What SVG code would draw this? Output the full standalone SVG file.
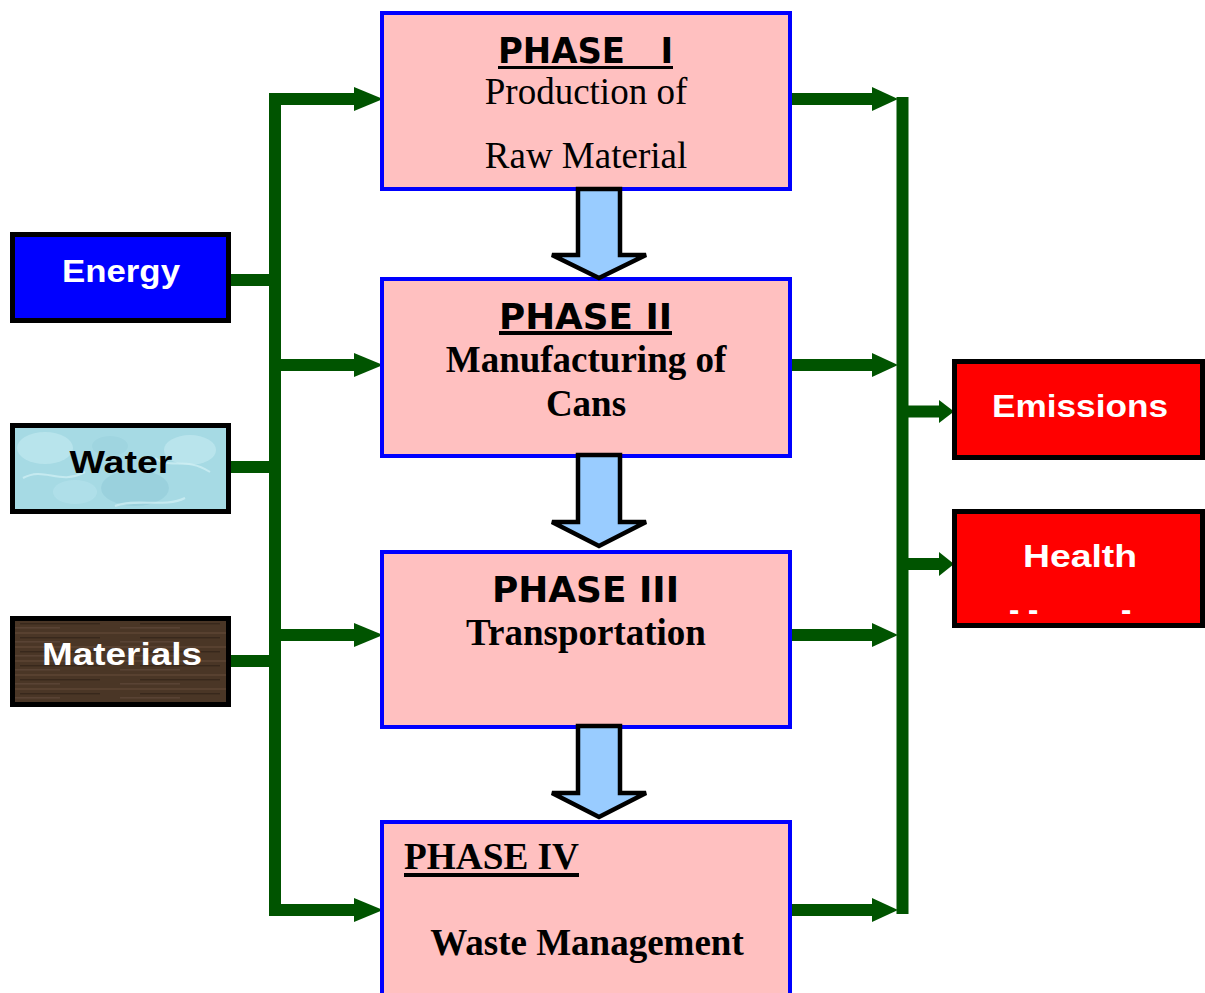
<svg xmlns="http://www.w3.org/2000/svg" width="1205" height="993" viewBox="0 0 1205 993">
  <style>
    .phase { fill: #FFC0C0; stroke: #0000FF; stroke-width: 4; }
    .input { stroke: #000000; stroke-width: 5; }
    .outbox { fill: #FF0000; stroke: #000000; stroke-width: 5; }
    .flow { fill: #99CCFF; stroke: #000000; stroke-width: 4.5; stroke-linejoin: miter; }
    .wire { fill: none; stroke: #005400; stroke-width: 12; stroke-linecap: butt; stroke-linejoin: miter; }
    .head { fill: #005400; }
    .hdr { font-family: "DejaVu Sans", "Liberation Sans", sans-serif; font-weight: bold; font-size: 35px; fill: #000; }
    .serif { font-family: "Liberation Serif", "Times New Roman", serif; font-size: 37px; fill: #000; }
    .b { font-weight: bold; }
    .lbl { font-family: "Liberation Sans", Arial, sans-serif; font-weight: bold; font-size: 31px; }
    .ul { fill: #000; }
  </style>
  <defs>
    <!-- soft bubbly water surface -->
    <pattern id="waterTex" patternUnits="userSpaceOnUse" x="15" y="428" width="211" height="81">
      <rect width="211" height="81" fill="#A6DAE4"/>
      <ellipse cx="30" cy="20" rx="28" ry="16" fill="#BDE6EE" opacity="0.8"/>
      <ellipse cx="120" cy="60" rx="34" ry="18" fill="#93CCD9" opacity="0.6"/>
      <ellipse cx="175" cy="22" rx="26" ry="15" fill="#C2E9F0" opacity="0.7"/>
      <ellipse cx="60" cy="64" rx="22" ry="12" fill="#B4E2EB" opacity="0.7"/>
      <ellipse cx="95" cy="18" rx="18" ry="10" fill="#98D0DC" opacity="0.5"/>
      <path d="M8 50 C30 38 44 58 70 44 M140 30 C155 42 170 28 195 44 M100 78 C120 70 150 80 170 70" stroke="#D4F2F6" stroke-width="2" fill="none" opacity="0.7"/>
    </pattern>
    <!-- dark wood grain -->
    <pattern id="woodTex" patternUnits="userSpaceOnUse" width="120" height="14">
      <rect width="120" height="14" fill="#4A3626"/>
      <rect y="2" width="120" height="2" fill="#5B4332" opacity="0.8"/>
      <rect x="20" y="7" width="80" height="1.5" fill="#36271B" opacity="0.9"/>
      <rect x="0" y="11" width="60" height="1.5" fill="#60493A" opacity="0.7"/>
    </pattern>
  </defs>

  <rect width="1205" height="993" fill="#FFFFFF"/>

  <!-- connectors: input bus, output bus and their arrowheads -->
  <g id="connectors">
    <path class="wire" d="M231 280 H275 M231 467 H275 M231 661 H275"/>
    <path class="wire" d="M356 99 H275 V910 H356"/>
    <path class="wire" d="M275 365 H356 M275 635 H356"/>
    <polygon class="head" points="354,87 383,99 354,111"/>
    <polygon class="head" points="354,353 383,365 354,377"/>
    <polygon class="head" points="354,623 383,635 354,647"/>
    <polygon class="head" points="354,898 383,910 354,922"/>

    <path class="wire" d="M792 99 H874 M792 365 H874 M792 635 H874 M792 910 H874"/>
    <path class="wire" d="M902.5 97 V914"/>
    <polygon class="head" points="872,87 898,99 872,111"/>
    <polygon class="head" points="872,353 898,365 872,377"/>
    <polygon class="head" points="872,623 898,635 872,647"/>
    <polygon class="head" points="872,898 898,910 872,922"/>

    <path class="wire" d="M902 411.5 H941 M902 564 H941"/>
    <polygon class="head" points="939,400 954,411.5 939,423"/>
    <polygon class="head" points="939,552 954,564 939,576"/>
  </g>

  <!-- inputs -->
  <g id="energy">
    <rect class="input" x="12.5" y="234.5" width="216" height="86" fill="#0000FF"/>
    <text class="lbl" x="121" y="282" text-anchor="middle" fill="#FFFFFF" textLength="118" lengthAdjust="spacingAndGlyphs">Energy</text>
  </g>
  <g id="water">
    <rect class="input" x="12.5" y="425.5" width="216" height="86" fill="url(#waterTex)"/>
    <text class="lbl" x="121" y="473" text-anchor="middle" fill="#000000" textLength="103" lengthAdjust="spacingAndGlyphs">Water</text>
  </g>
  <g id="materials">
    <rect class="input" x="12.5" y="618.5" width="216" height="86" fill="url(#woodTex)"/>
    <text class="lbl" x="122" y="665" text-anchor="middle" fill="#FFFFFF" textLength="160" lengthAdjust="spacingAndGlyphs">Materials</text>
  </g>

  <!-- phases -->
  <g id="phase1">
    <rect class="phase" x="382" y="13" width="408" height="176"/>
    <text class="hdr" x="498" y="63" textLength="175" lengthAdjust="spacingAndGlyphs" xml:space="preserve">PHASE   I</text>
    <rect class="ul" x="498" y="66" width="175" height="3"/>
    <text class="serif" x="586" y="104" text-anchor="middle">Production of</text>
    <text class="serif" x="586" y="168" text-anchor="middle">Raw Material</text>
  </g>
  <g id="phase2">
    <rect class="phase" x="382" y="279" width="408" height="177"/>
    <text class="hdr" x="499" y="329" textLength="173" lengthAdjust="spacingAndGlyphs">PHASE II</text>
    <rect class="ul" x="499" y="331" width="173" height="4"/>
    <text class="serif b" x="586" y="372" text-anchor="middle">Manufacturing of</text>
    <text class="serif b" x="586" y="416" text-anchor="middle">Cans</text>
  </g>
  <g id="phase3">
    <rect class="phase" x="382" y="552" width="408" height="175"/>
    <text class="hdr" x="492" y="602" textLength="187" lengthAdjust="spacingAndGlyphs">PHASE III</text>
    <text class="serif b" x="586" y="645" text-anchor="middle">Transportation</text>
  </g>
  <g id="phase4">
    <rect class="phase" x="382" y="822" width="408" height="200"/>
    <text class="serif b" x="404" y="869" textLength="175" lengthAdjust="spacingAndGlyphs">PHASE IV</text>
    <rect class="ul" x="404" y="873" width="175" height="4"/>
    <text class="serif b" x="587" y="955" text-anchor="middle">Waste Management</text>
  </g>

  <!-- flow arrows between phases -->
  <g id="flow-arrows">
    <polygon class="flow" points="578,189 620,189 620,255 646,255 599,278 552,255 578,255"/>
    <polygon class="flow" points="578,455 620,455 620,522 646,522 599,546 552,522 578,522"/>
    <polygon class="flow" points="578,726 620,726 620,793 646,793 599,817 552,793 578,793"/>
  </g>

  <!-- outputs -->
  <g id="emissions">
    <rect class="outbox" x="954.5" y="361.5" width="248" height="96"/>
    <text class="lbl" x="1080" y="417" text-anchor="middle" fill="#FFFFFF" textLength="176" lengthAdjust="spacingAndGlyphs">Emissions</text>
  </g>
  <g id="health">
    <rect class="outbox" x="954.5" y="511.5" width="248" height="114"/>
    <text class="lbl" x="1080" y="567" text-anchor="middle" fill="#FFFFFF" textLength="114" lengthAdjust="spacingAndGlyphs">Health</text>
    <text class="lbl" x="1009" y="620" fill="#FFFFFF" font-size="20" xml:space="preserve">- -</text>
    <text class="lbl" x="1121" y="620" fill="#FFFFFF" font-size="20">-</text>
  </g>
</svg>
